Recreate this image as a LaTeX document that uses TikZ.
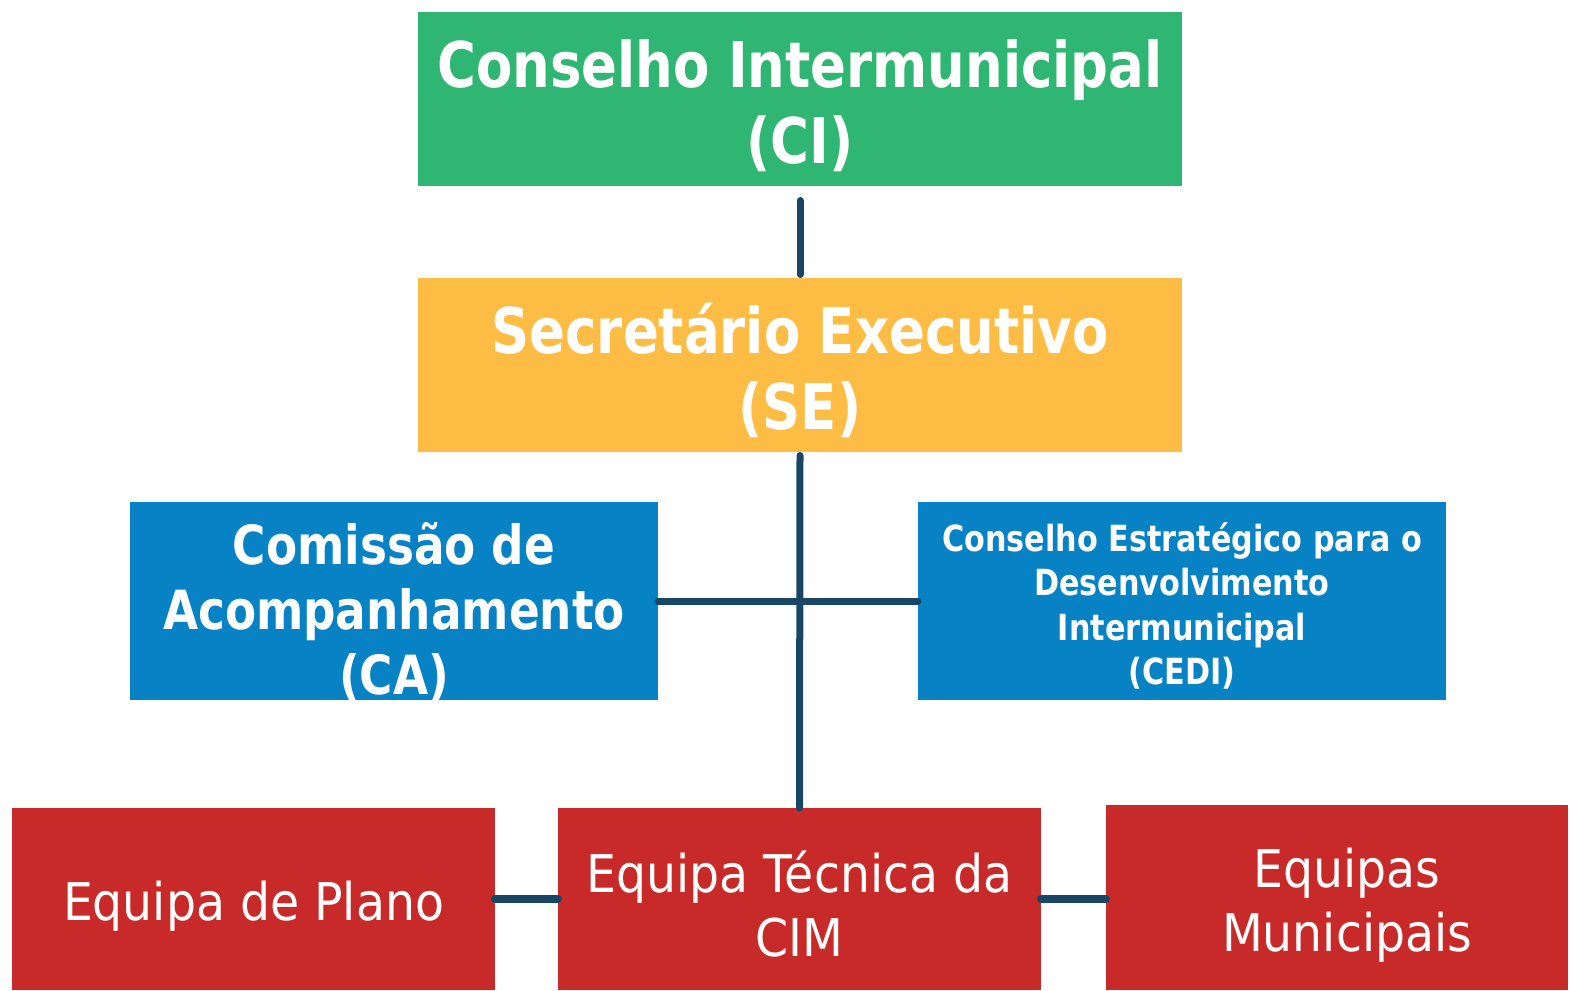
\documentclass[tikz,border=0pt]{standalone}
\usepackage{fontspec}
\newfontfamily\tahb[FakeStretch=0.84]{DejaVu Sans}
\newfontfamily\tahr[FakeStretch=0.91]{DejaVu Sans}
\definecolor{cigreen}{HTML}{2FB673}
\definecolor{seorange}{HTML}{FDBD44}
\definecolor{cablue}{HTML}{0782C4}
\definecolor{eqred}{HTML}{C72A29}
\definecolor{navy}{HTML}{1A4666}
\tikzset{
  box/.style={inner sep=0pt, outer sep=0pt},
  txt/.style={align=center, text=white, inner sep=0pt},
  conn/.style={draw=navy, line width=7pt, line cap=round},
  bigbold/.style={txt, font=\tahb\bfseries\fontsize{63}{76}\selectfont},
  midbold/.style={txt, font=\tahb\bfseries\fontsize{54}{65}\selectfont},
  smallbold/.style={txt, font=\tahb\bfseries\fontsize{36}{44.6}\selectfont},
  regtext/.style={txt, font=\tahr\fontsize{52}{64}\selectfont},
}
\begin{document}
\begin{tikzpicture}[x=1pt,y=-1pt]
\useasboundingbox (0,0) rectangle (1570,990);
\fill[white] (0,0) rectangle (1570,990);
\node[box, fill=cigreen, minimum width=764pt, minimum height=174pt,
  label={[bigbold, yshift=-7pt]center:Conselho Intermunicipal\\(CI)}] (ci) at (800,99) {};
\node[box, fill=seorange, minimum width=764pt, minimum height=174pt,
  label={[bigbold, yshift=-5pt]center:Secretário Executivo\\(SE)}] (se) at (800,365) {};
\node[box, fill=cablue, minimum width=528pt, minimum height=198pt,
  label={[midbold, yshift=-11pt]center:Comissão de\\Acompanhamento\\(CA)}] (ca) at (394,601) {};
\node[box, fill=cablue, minimum width=528pt, minimum height=198pt,
  label={[smallbold, yshift=-5pt]center:Conselho Estratégico para o\\Desenvolvimento\\Intermunicipal\\(CEDI)}] (cedi) at (1182,601) {};
\node[box, fill=eqred, minimum width=483pt, minimum height=182pt,
  label={[regtext, yshift=-7pt]center:Equipa de Plano}] (ep) at (253.5,899) {};
\node[box, fill=eqred, minimum width=483pt, minimum height=182pt,
  label={[regtext, yshift=-5pt]center:Equipa Técnica da\\CIM}] (et) at (799.5,899) {};
\node[box, fill=eqred, minimum width=462pt, minimum height=185pt,
  label={[regtext, yshift=-8pt, xshift=10pt]center:Equipas\\Municipais}] (em) at (1337,897.5) {};
\draw[conn, shorten <=14.5pt, shorten >=3.5pt] (ci.south) -- (se.north);
\draw[conn, shorten <=3.5pt] (se.south) -- (et.north);
\draw[conn] (ca.east) -- (cedi.west);
\draw[conn, line width=8pt] (ep.east) -- (et.west);
\draw[conn, line width=8pt] (et.east) -- (et.east -| em.west);
\end{tikzpicture}
\end{document}
